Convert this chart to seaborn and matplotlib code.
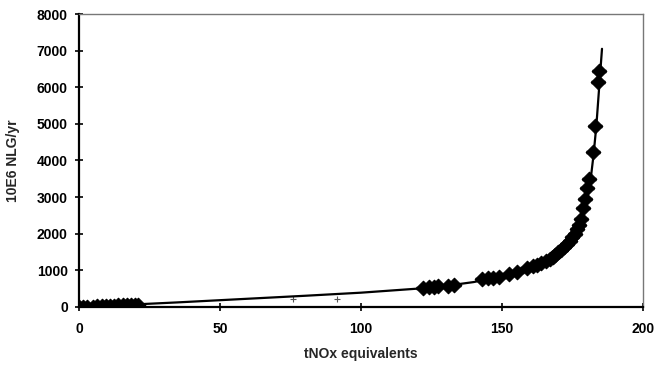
import matplotlib
matplotlib.use("Agg")
import matplotlib.pyplot as plt
import seaborn as sns
import pandas as pd

# Fitted curve
fit_x = [0, 10, 20, 35, 50, 65, 80, 100, 120, 130, 140, 150, 158, 163, 168, 172, 175, 177, 179, 180.5, 181.5, 182.5, 183.5, 184.5, 185.5]
fit_y = [0, 35, 70, 125, 185, 245, 305, 390, 500, 575, 680, 840, 1020, 1180, 1400, 1650, 1950, 2250, 2650, 3050, 3500, 4150, 4950, 6000, 7050]

obs_x = [0, 1.5, 3, 5, 6.5, 8, 9.5, 11, 12.5, 14, 15.5, 17, 18.5, 20, 21,
         122, 124, 126, 127.5, 131, 133,
         143, 145, 147, 149, 152.5, 155.5,
         159, 161, 162.5, 164, 165.5, 167, 168, 169, 170, 171, 172, 173, 174, 175, 175.8, 176.6, 177.3, 178,
         178.8, 179.5, 180.2, 181, 182.3, 183, 184, 184.4]
obs_y = [0, 3, 8, 12, 18, 22, 28, 32, 38, 42, 48, 52, 58, 62, 66,
         520, 540, 555, 560, 585, 600,
         760, 780, 800, 830, 900, 950,
         1060, 1110, 1150, 1200, 1250, 1320, 1370, 1430, 1500, 1560, 1640, 1720, 1800, 1900, 2000, 2120, 2250, 2400,
         2700, 2950, 3250, 3500, 4230, 4950, 6150, 6450]

# Small stray marks below the line
stray_x = [76, 91.5]
stray_y = [220, 220]

sns.set_style("ticks")
plt.rcParams['font.family'] = ['Liberation Sans', 'DejaVu Sans']

fig = plt.figure(figsize=(6.56, 3.65), dpi=100)
ax = fig.add_axes([0.1204, 0.159, 0.8596, 0.8026])

fit_df = pd.DataFrame({"x": fit_x, "y": fit_y})
obs_df = pd.DataFrame({"x": obs_x, "y": obs_y})
stray_df = pd.DataFrame({"x": stray_x, "y": stray_y})

sns.lineplot(data=fit_df, x="x", y="y", ax=ax, color="black", linewidth=1.6, sort=False, zorder=3)
sns.scatterplot(data=obs_df, x="x", y="y", ax=ax, color="black", marker="D", s=55,
                edgecolor="black", linewidth=0.8, zorder=4)
sns.scatterplot(data=obs_df, x="x", y="y", ax=ax, color="black", marker="_", s=90,
                linewidth=2.5, zorder=4)
sns.scatterplot(data=stray_df, x="x", y="y", ax=ax, color="#555555", marker="+", s=20,
                linewidth=0.8, zorder=2)

ax.set_xlim(0, 200)
ax.set_ylim(0, 8000)
ax.set_xticks([0, 50, 100, 150, 200])
ax.set_yticks(range(0, 8001, 1000))
ax.tick_params(direction="inout", length=6, width=1.2, colors="black", labelsize=10)
ax.tick_params(axis="x", pad=8)
ax.tick_params(axis="y", pad=5)
ax.set_xlabel("tNOx equivalents", fontsize=10, fontweight="bold", labelpad=8)
ax.set_ylabel("10E6 NLG/yr", fontsize=10, fontweight="bold", labelpad=12)

for side in ["left", "bottom"]:
    ax.spines[side].set_linewidth(1.6)
    ax.spines[side].set_color("black")
for side in ["top", "right"]:
    ax.spines[side].set_visible(True)
    ax.spines[side].set_linewidth(1.0)
    ax.spines[side].set_color("#777777")

for lab in ax.get_xticklabels() + ax.get_yticklabels():
    lab.set_fontweight("bold")

fig.savefig("out.png", dpi=100)
